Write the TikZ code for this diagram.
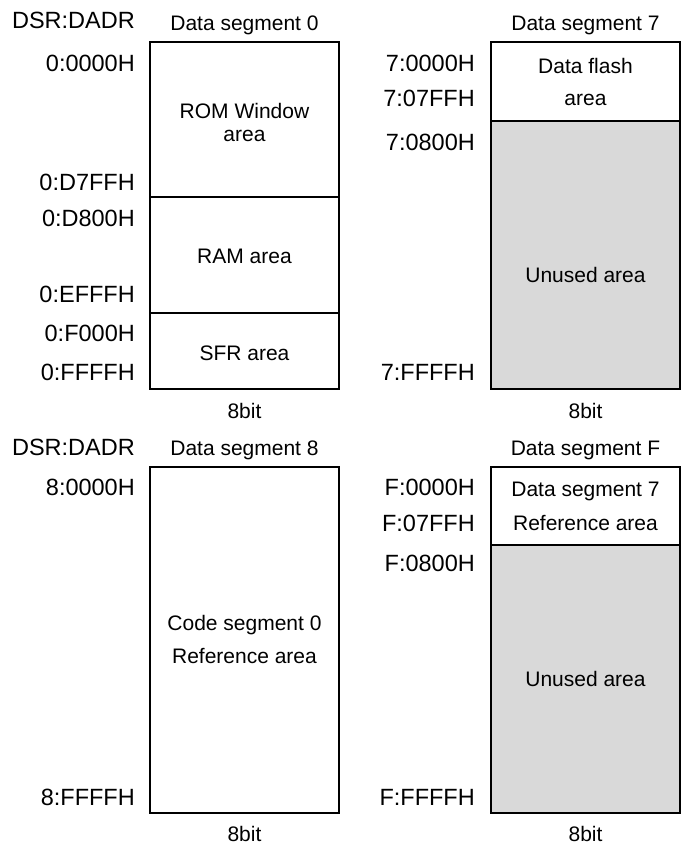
\documentclass[tikz,border=0pt]{standalone}
\usepackage{fontspec}
\setmainfont{Liberation Sans}
\definecolor{unusedgray}{HTML}{D9D9D9}
\begin{document}
\begin{tikzpicture}[x=1pt,y=-1pt,
  region/.style={draw=black,line width=2.4pt,inner sep=0pt,outer sep=0pt,
                 minimum width=189pt,rectangle},
  unused/.style={region,fill=unusedgray},
  addr/.style={anchor=base east,inner sep=0pt,font=\fontsize{23.5}{28}\selectfont},
  title/.style={anchor=base,inner sep=0pt,font=\fontsize{21}{25}\selectfont},
  body/.style={anchor=base,inner sep=0pt,font=\fontsize{21}{25}\selectfont}]
\useasboundingbox (0,0) rectangle (685,855);

% ---- Data segment 0 ----
\node[region,minimum height=155pt] (rom) at (244.5,119.5) {};
\node[region,minimum height=116pt] (ram) at (244.5,255) {};
\node[region,minimum height=76pt]  (sfr) at (244.5,351) {};
\node[addr] (dsr1) at (135,28.5) {DSR:DADR};
\node[title] (t0) at (244.5,30) {Data segment 0};
\node[addr] (a00) at (135,71.5) {0:0000H};
\node[addr] (a01) at (135,190) {0:D7FFH};
\node[addr] (a02) at (135,226.5) {0:D800H};
\node[addr] (a03) at (135,302.5) {0:EFFFH};
\node[addr] (a04) at (135,341) {0:F000H};
\node[addr] (a05) at (135,380) {0:FFFFH};
\node[body] (romt1) at (244.5,118) {ROM Window};
\node[body] (romt2) at (244.5,141) {area};
\node[body] (ramt) at (244.5,263) {RAM area};
\node[body] (sfrt) at (244.5,360) {SFR area};
\node[title] (w0) at (244.5,418) {8bit};

% ---- Data segment 7 ----
\node[unused,minimum height=268pt] (un7box) at (585.5,255) {};
\node[region,minimum height=79pt] (flash) at (585.5,81.5) {};
\node[title] (t7) at (585.5,30) {Data segment 7};
\node[addr] (a70) at (475,71.5) {7:0000H};
\node[addr] (a71) at (475,106.5) {7:07FFH};
\node[addr] (a72) at (475,150) {7:0800H};
\node[addr] (a73) at (475,380) {7:FFFFH};
\node[body] (flt1) at (585.5,73.5) {Data flash};
\node[body] (flt2) at (585.5,105) {area};
\node[body] (un7) at (585.5,282.5) {Unused area};
\node[title] (w7) at (585.5,418) {8bit};

% ---- Data segment 8 ----
\node[region,minimum height=346pt] (code) at (244.5,640) {};
\node[addr] (dsr2) at (135,455) {DSR:DADR};
\node[title] (t8) at (244.5,455) {Data segment 8};
\node[addr] (a80) at (135,495) {8:0000H};
\node[addr] (a81) at (135,805) {8:FFFFH};
\node[body] (cst1) at (244.5,630) {Code segment 0};
\node[body] (cst2) at (244.5,663) {Reference area};
\node[title] (w8) at (244.5,841.5) {8bit};

% ---- Data segment F ----
\node[unused,minimum height=268pt] (unFbox) at (585.5,679) {};
\node[region,minimum height=78pt] (ref7) at (585.5,506) {};
\node[title] (tF) at (585.5,455) {Data segment F};
\node[addr] (aF0) at (475,495) {F:0000H};
\node[addr] (aF1) at (475,531.5) {F:07FFH};
\node[addr] (aF2) at (475,571.5) {F:0800H};
\node[addr] (aF3) at (475,805) {F:FFFFH};
\node[body] (rft1) at (585.5,496.5) {Data segment 7};
\node[body] (rft2) at (585.5,530) {Reference area};
\node[body] (unF) at (585.5,686.5) {Unused area};
\node[title] (wF) at (585.5,841.5) {8bit};
\end{tikzpicture}
\end{document}
